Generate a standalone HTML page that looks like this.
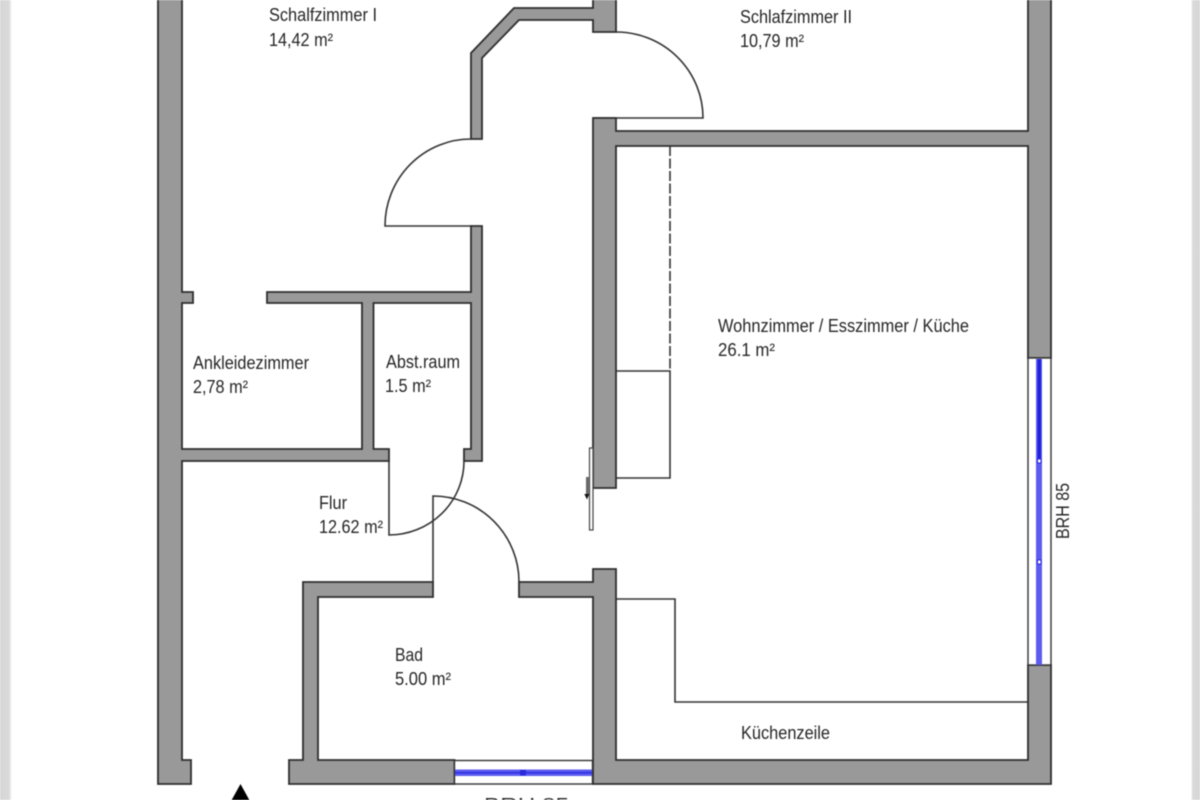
<!DOCTYPE html>
<html><head><meta charset="utf-8"><style>
html,body{margin:0;padding:0;background:#fff}
svg{display:block;filter:blur(.4px)}
text{font-family:"Liberation Sans",sans-serif;font-size:18px;fill:#262626}
.w{fill:#999;stroke:#2e2e2e;stroke-width:1.8;stroke-linejoin:miter}
.l{fill:none;stroke:#333;stroke-width:1.6}
</style></head><body>
<svg width="1200" height="800" viewBox="0 0 1200 800" xmlns="http://www.w3.org/2000/svg">
<defs><linearGradient id="gl" x1="0" x2="1"><stop offset="0" stop-color="#d6d6d6"/><stop offset=".75" stop-color="#dadada"/><stop offset="1" stop-color="#fff"/></linearGradient>
<linearGradient id="gr" x1="1" x2="0"><stop offset="0" stop-color="#d6d6d6"/><stop offset=".8" stop-color="#dadada"/><stop offset="1" stop-color="#fff"/></linearGradient></defs>
<rect width="1200" height="800" fill="#fff"/>
<rect x="0" y="0" width="12" height="800" fill="url(#gl)"/>
<rect x="1191" y="0" width="9" height="800" fill="url(#gr)"/>

<!-- door swings and thin lines -->
<path class="l" d="M616 32A87 86 0 0 1 703 118H593"/>
<path class="l" d="M471 139A86 87 0 0 0 385 226H471"/>
<path class="l" d="M389 461V535A75 74 0 0 0 464 461"/>
<path class="l" d="M433 582V496A86 86 0 0 1 519 582"/>
<path class="l" stroke-dasharray="10 2.5" d="M670 146V371"/>
<path class="l" d="M616 371H670V478H616"/>
<path class="l" d="M616 599H675V702H1028"/>

<!-- walls -->
<path class="w" d="M158 -2V784H191V760H182V461H389V449H373.5V303H471V449H464V461H482V226H471V292H267V303H362V449H182V303H193V292H182V-2Z"/>
<path class="w" d="M593 -2V8H514L471 53V139H482V58L519 20H593V32H616V-2Z"/>
<path class="w" d="M593 118H616V131H1028V-2H1051V358H1028V146H616V488H593Z"/>
<path class="w" d="M454.5 784V760H318V597H433V582H303V760H289V784Z"/>
<path class="w" d="M519 582H593V569H616V760H1028V665H1051V784H593V597H519Z"/>

<!-- right window -->
<rect x="1028" y="358" width="23" height="307" fill="#fff" stroke="#333" stroke-width="1.4"/>
<rect x="1036" y="359" width="6" height="306" fill="#5c5cf0"/>
<rect x="1037.5" y="359" width="3.5" height="102" fill="#2222dd"/>
<rect x="1037.5" y="459" width="3.5" height="4" fill="#fff" stroke="#2a2ae0" stroke-width="1"/>
<rect x="1037.5" y="560" width="3.5" height="4" fill="#fff" stroke="#2a2ae0" stroke-width="1"/>

<!-- bottom window -->
<rect x="454.5" y="760.5" width="138" height="23.5" fill="#fff" stroke="#333" stroke-width="1.4"/>
<rect x="455" y="769.5" width="137" height="6.5" fill="#5c5cf0"/>
<rect x="455" y="772" width="137" height="1.5" fill="#3030e0"/>
<rect x="520" y="770" width="6" height="5.5" fill="#2a2add"/>

<!-- sliding door -->
<rect x="589.5" y="448" width="3.5" height="82" fill="#fff" stroke="#444" stroke-width="1.2"/>
<rect x="586" y="477" width="2.8" height="18" fill="#666"/>
<path d="M584.3 494H589.3L587 499.5Z" fill="#111"/>

<!-- north arrow -->
<path d="M240.5 784L230 803H251Z" fill="#000"/>

<!-- labels -->
<text x="269" y="21" textLength="108" lengthAdjust="spacingAndGlyphs">Schalfzimmer I</text>
<text x="269" y="46" textLength="64" lengthAdjust="spacingAndGlyphs">14,42 m²</text>
<text x="740" y="23" textLength="112" lengthAdjust="spacingAndGlyphs">Schlafzimmer II</text>
<text x="740" y="47" textLength="64" lengthAdjust="spacingAndGlyphs">10,79 m²</text>
<text x="718" y="332" textLength="251" lengthAdjust="spacingAndGlyphs">Wohnzimmer / Esszimmer / Küche</text>
<text x="718" y="356" textLength="57" lengthAdjust="spacingAndGlyphs">26.1 m²</text>
<text x="193" y="369" textLength="116" lengthAdjust="spacingAndGlyphs">Ankleidezimmer</text>
<text x="193" y="393" textLength="55" lengthAdjust="spacingAndGlyphs">2,78 m²</text>
<text x="386" y="368" textLength="74" lengthAdjust="spacingAndGlyphs">Abst.raum</text>
<text x="385" y="392" textLength="46" lengthAdjust="spacingAndGlyphs">1.5 m²</text>
<text x="319" y="509" textLength="28" lengthAdjust="spacingAndGlyphs">Flur</text>
<text x="319" y="533" textLength="64" lengthAdjust="spacingAndGlyphs">12.62 m²</text>
<text x="395" y="661" textLength="28" lengthAdjust="spacingAndGlyphs">Bad</text>
<text x="395" y="685" textLength="56" lengthAdjust="spacingAndGlyphs">5.00 m²</text>
<text x="741" y="739" textLength="89" lengthAdjust="spacingAndGlyphs">Küchenzeile</text>
<text x="484" y="811" textLength="85" lengthAdjust="spacingAndGlyphs">BRH 85</text>
<text transform="translate(1069 539) rotate(-90)" textLength="56" lengthAdjust="spacingAndGlyphs">BRH 85</text>
</svg>
</body></html>
